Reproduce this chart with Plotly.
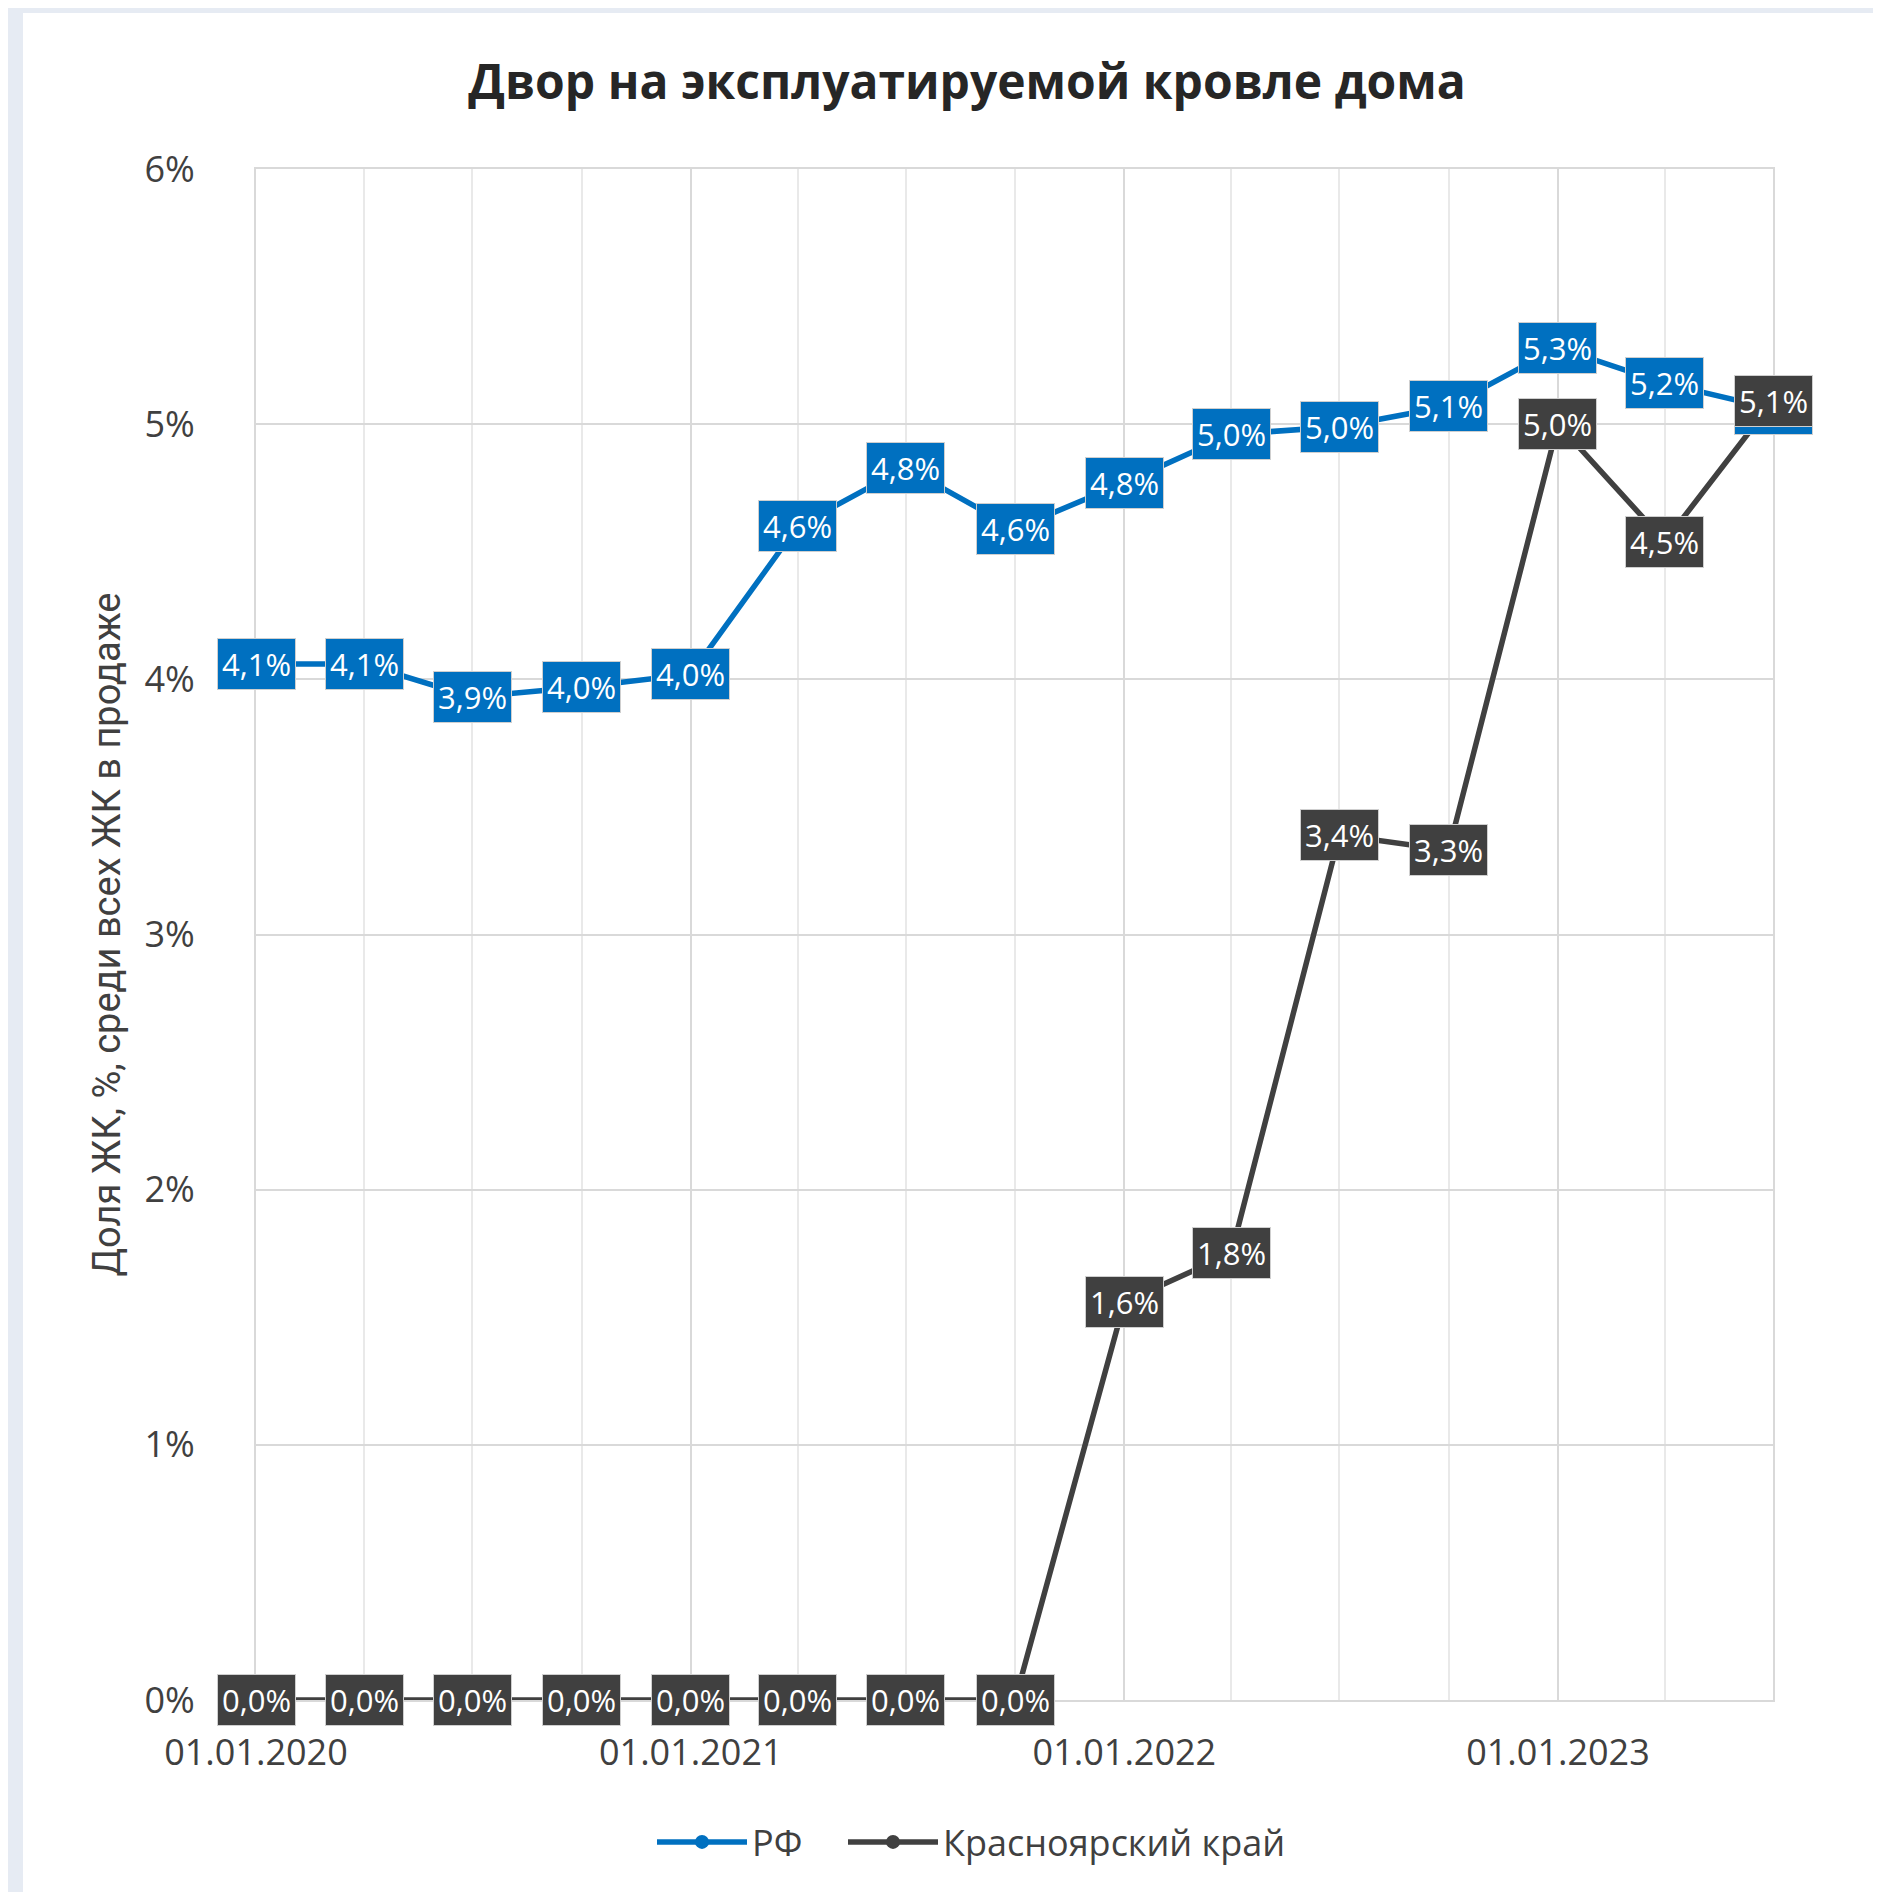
import plotly.graph_objects as go

dates = ["2020-01-01", "2020-04-01", "2020-07-01", "2020-10-01",
         "2021-01-01", "2021-04-01", "2021-07-01", "2021-10-01",
         "2022-01-01", "2022-04-01", "2022-07-01", "2022-10-01",
         "2023-01-01", "2023-04-01", "2023-07-01"]
rf = [4.06, 4.06, 3.93, 3.97, 4.02, 4.60, 4.83, 4.59, 4.77, 4.96, 4.99, 5.07, 5.30, 5.16, 5.06]
kras = [0.0, 0.0, 0.0, 0.0, 0.0, 0.0, 0.0, 0.0, 1.56, 1.75, 3.39, 3.33, 5.00, 4.54, 5.09]
y_ticks = [0, 1, 2, 3, 4, 5, 6]

BLUE = "#0070C0"
DARK = "#404040"
TXT = "#404040"
GRID = "#D9D9D9"
MINOR = "#E9E9E9"

fig = go.Figure()
fig.add_trace(go.Scatter(x=dates, y=rf, name="РФ", mode="lines+markers", legend="legend",
                         line=dict(color=BLUE, width=5.5), marker=dict(size=14, color=BLUE)))
fig.add_trace(go.Scatter(x=dates, y=kras, name="Красноярский край", mode="lines+markers",
                         legend="legend2",
                         line=dict(color=DARK, width=5.5), marker=dict(size=14, color=DARK)))

def fmt(v):
    return f"{v:.1f}".replace(".", ",") + "%"

ann = []
for series, col in ((rf, BLUE), (kras, DARK)):
    for d, v in zip(dates, series):
        ann.append(dict(x=d, y=v, xref="x", yref="y", text=fmt(v), showarrow=False,
                        font=dict(family="Open Sans", size=31, color="white"),
                        bgcolor=col, bordercolor="#CFCFCF", borderwidth=1, borderpad=4,
                        xanchor="center", yanchor="middle"))

OFF = 8  # page body margin
L, R, T, B = 256 - OFF, 1773 - OFF, 169 - OFF, 1700 - OFF
W, H = 1881, 1892
pw, ph = R - L, B - T

def px(x):
    return (x - OFF - L) / pw

def py(y):
    return (B - (y - OFF)) / ph

leg_common = dict(orientation="h", yanchor="middle", xanchor="left",
                  font=dict(family="Open Sans", size=36, color=TXT),
                  bgcolor="rgba(0,0,0,0)", itemwidth=90)

fig.update_layout(
    width=W, height=H,
    margin=dict(l=L, r=W - R, t=T, b=H - B),
    paper_bgcolor="#E6EBF3",
    plot_bgcolor="rgba(0,0,0,0)",
    font=dict(family="Open Sans", color=TXT),
    title=dict(text="<b>Двор на эксплуатируемой кровле дома</b>",
               font=dict(family="Open Sans", size=48, color="#262626"),
               x=px(967), xanchor="center", xref="paper",
               y=1 - (82 - OFF) / H, yanchor="middle"),
    annotations=ann,
    shapes=[dict(type="rect", xref="paper", yref="paper",
                 x0=px(23), x1=px(W + 20), y0=py(13), y1=py(H + 20),
                 fillcolor="white", line=dict(width=0), layer="below")],
    legend=dict(x=px(652), y=py(1842), **leg_common),
    legend2=dict(x=px(843), y=py(1842), **leg_common),
    showlegend=True,
)

fig.update_xaxes(type="date", range=["2020-01-01", "2023-07-01"],
                 tick0="2020-01-01", dtick="M12", tickformat="%d.%m.%Y",
                 showgrid=True, gridcolor=GRID, gridwidth=2,
                 minor=dict(dtick="M3", tick0="2020-01-01", showgrid=True,
                            gridcolor=MINOR, gridwidth=2),
                 showline=True, linecolor=GRID, linewidth=2, mirror=True,
                 zeroline=False, ticks="",
                 tickfont=dict(family="Open Sans", size=36, color=TXT),
                 ticklabelstandoff=20)

fig.update_yaxes(range=[0, 6], tickvals=y_ticks, ticktext=[f"{v}%" for v in y_ticks],
                 showgrid=True, gridcolor=GRID, gridwidth=2,
                 zeroline=True, zerolinecolor=GRID, zerolinewidth=2,
                 showline=True, linecolor=GRID, linewidth=2, mirror=True, ticks="",
                 tickfont=dict(family="Open Sans", size=36, color=TXT),
                 ticklabelstandoff=52,
                 title=dict(text="Доля ЖК, %, среди всех ЖК в продаже",
                            font=dict(family="Roboto", size=38, color=TXT), standoff=12))

fig.write_html("out.html")
